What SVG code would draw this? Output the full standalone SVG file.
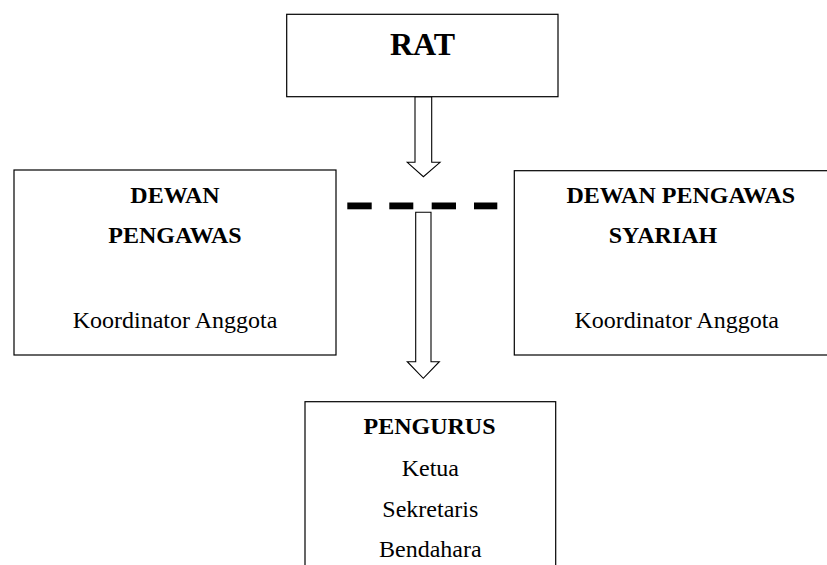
<svg xmlns="http://www.w3.org/2000/svg" width="827" height="565" viewBox="0 0 827 565">
<style>
.box{fill:#fff;stroke:#000;stroke-width:1.2}
.arr{fill:#fff;stroke:#000;stroke-width:1.1;stroke-linejoin:miter}
.dash{fill:#000}
text{font-family:"Liberation Serif","Times New Roman",serif;fill:#000;text-anchor:middle}
.b{font-weight:bold;font-size:24px}
.n{font-size:24px}
</style>
<rect width="827" height="565" fill="#fff"/>
<g id="connectors">
<path class="arr" d="M415,96.7 L431.7,96.7 L431.7,162.3 L440,162.3 L423.4,176.7 L407.3,162.3 L415,162.3 Z"/>
<path class="arr" d="M415.7,212.3 L431,212.3 L431,361.7 L439.3,361.7 L423.3,378.3 L407.3,361.7 L415.7,361.7 Z"/>
<g id="dashed-link">
<rect class="dash" x="347.3" y="202.5" width="24.4" height="6.8"/>
<rect class="dash" x="389.3" y="202.5" width="24" height="6.8"/>
<rect class="dash" x="431.7" y="202.5" width="24.3" height="6.8"/>
<rect class="dash" x="474" y="202.5" width="23.3" height="6.8"/>
</g>
</g>
<g id="rat">
<rect class="box" x="286.7" y="14.3" width="271.3" height="82.4"/>
<text x="422.5" y="55" style="font-weight:bold;font-size:32px">RAT</text>
</g>
<g id="dewan-pengawas">
<rect class="box" x="14" y="170" width="322" height="185"/>
<text class="b" x="175" y="203.3">DEWAN</text>
<text class="b" x="175" y="243.3">PENGAWAS</text>
<text class="n" x="175" y="327.7">Koordinator Anggota</text>
</g>
<g id="dewan-pengawas-syariah">
<rect class="box" x="514.3" y="170.7" width="320" height="184.3"/>
<text class="b" x="680.8" y="202.5">DEWAN PENGAWAS</text>
<text class="b" x="663" y="243">SYARIAH</text>
<text class="n" x="676.7" y="327.5">Koordinator Anggota</text>
</g>
<g id="pengurus">
<rect class="box" x="305" y="401.7" width="250.7" height="175"/>
<text class="b" x="429.5" y="434.3">PENGURUS</text>
<text class="n" x="430.3" y="476">Ketua</text>
<text class="n" x="430.3" y="516.7">Sekretaris</text>
<text class="n" x="430.3" y="557.3">Bendahara</text>
</g>
</svg>
